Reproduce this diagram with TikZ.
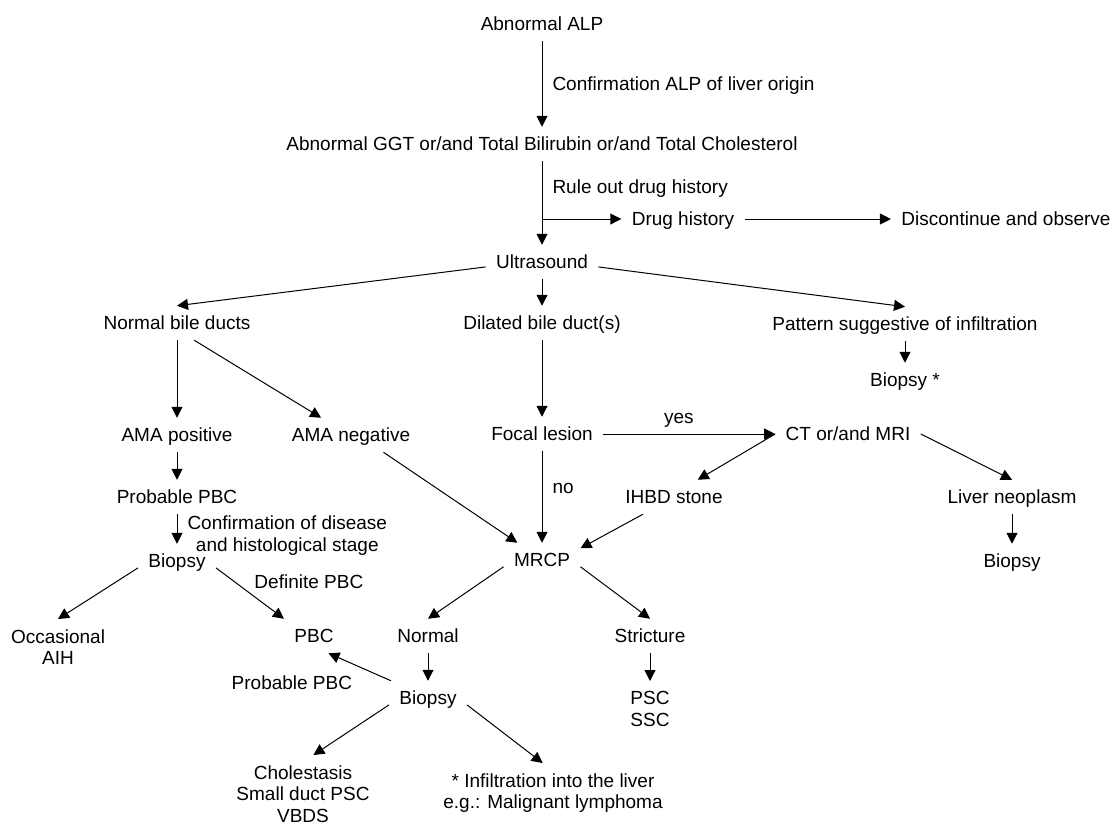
\documentclass[tikz,border=0pt]{standalone}
\usepackage{fontspec}
\setmainfont{Liberation Sans}
\usetikzlibrary{arrows.meta}

\begin{document}
\begin{tikzpicture}[x=0.5pt, y=-0.5pt, >={Triangle[length=5.5pt,width=5.5pt]}, line width=0.5pt,
    every node/.style={font=\fontsize{9.5}{10.75}\selectfont, inner sep=5pt},
    txt/.style={text height=6.75pt, text depth=0pt},
    multi/.style={align=center, anchor=north}]
  \useasboundingbox (0,0) rectangle (1111,826);

  \node[txt]   (alp)   at (542,24)   {Abnormal ALP};
  \node[txt]   (ggt)   at (542,144)  {Abnormal GGT or/and Total Bilirubin or/and Total Cholesterol};
  \node[txt]   (drug)  at (683,219)  {Drug history};
  \node[txt]   (disc)  at (1006,219) {Discontinue and observe};
  \node[txt]   (ultra) at (542,262)  {Ultrasound};
  \node[txt]   (nbd)   at (177,323)  {Normal bile ducts};
  \node[txt]   (dil)   at (542,323)  {Dilated bile duct(s)};
  \node[txt]   (pat)   at (905,324)  {Pattern suggestive of infiltration};
  \node[txt]   (bioa)  at (905,380)  {Biopsy *};
  \node[txt]   (amap)  at (177,435)  {AMA positive};
  \node[txt]   (aman)  at (351,435)  {AMA negative};
  \node[txt]   (focal) at (542,434)  {Focal lesion};
  \node[txt]   (ct)    at (848,434)  {CT or/and MRI};
  \node[txt]   (prob)  at (177,497)  {Probable PBC};
  \node[txt]   (ihbd)  at (674,497)  {IHBD stone};
  \node[txt]   (liver) at (1012,497) {Liver neoplasm};
  \node[txt]   (biol)  at (177,561)  {Biopsy};
  \node[txt]   (mrcp)  at (542,560)  {MRCP};
  \node[txt]   (bior)  at (1012,561) {Biopsy};
  \node[multi] (occ)   at (58,619)   {Occasional\\AIH};
  \node[txt]   (pbc)   at (314,636)  {PBC};
  \node[txt]   (norm)  at (428,636)  {Normal};
  \node[txt]   (stric) at (650,636)  {Stricture};
  \node[txt]   (biom)  at (428,698)  {Biopsy};
  \node[multi] (psc)   at (650,681)  {PSC\\SSC};
  \node[multi] (chol)  at (303,755)  {Cholestasis\\Small duct PSC\\VBDS};
  \node[multi] (inf)   at (553,763)  {* Infiltration into the liver\\e.g.: Malignant lymphoma};

  \path[->] (alp.south)   edge node[right, txt] {Confirmation ALP of liver origin} (ggt.north)
            (ggt.south)   edge node[right, txt, pos=0.31] {Rule out drug history} (ultra.north)
            (ggt.south |- drug.west) edge (drug.west)
            (drug.east)   edge (disc.west)
            (ultra.185)   edge (nbd.north)
            (ultra.south) edge (dil.north)
            (ultra.-5)    edge (pat.north)
            (pat.south)   edge (bioa.north)
            (nbd.south)   edge (amap.north)
            (nbd.-45)     edge (aman.150)
            (dil.south)   edge (focal.north)
            (amap.south)  edge (prob.north)
            (prob.south)  edge node[right, align=center, pos=0.73] {Confirmation of disease\\and histological stage} (biol.north)
            (biol.190)    edge (occ.north)
            (biol.-10)    edge node[above right, txt, inner sep=2pt] {Definite PBC} (pbc.north west)
            (aman.-28)    edge (mrcp.145)
            (focal.east)  edge node[above, txt, pos=0.44] {yes} (ct.west)
            (focal.south) edge node[right, txt, pos=0.39] {no} (mrcp.north)
            (ct.west)     edge (ihbd.36)
            (ct.east)     edge (liver.north)
            (liver.south) edge (bior.north)
            (ihbd.209)    edge (mrcp.17)
            (mrcp.190)    edge (norm.north)
            (mrcp.-10)    edge (stric.north)
            (norm.south)  edge (biom.north)
            (stric.south) edge (psc.north)
            (biom.155)    edge node[below left, txt, pos=0.48, inner sep=4.2pt] {Probable PBC} (pbc.-50)
            (biom.190)    edge (chol.75)
            (biom.-10)    edge (inf.109);
\end{tikzpicture}
\end{document}
